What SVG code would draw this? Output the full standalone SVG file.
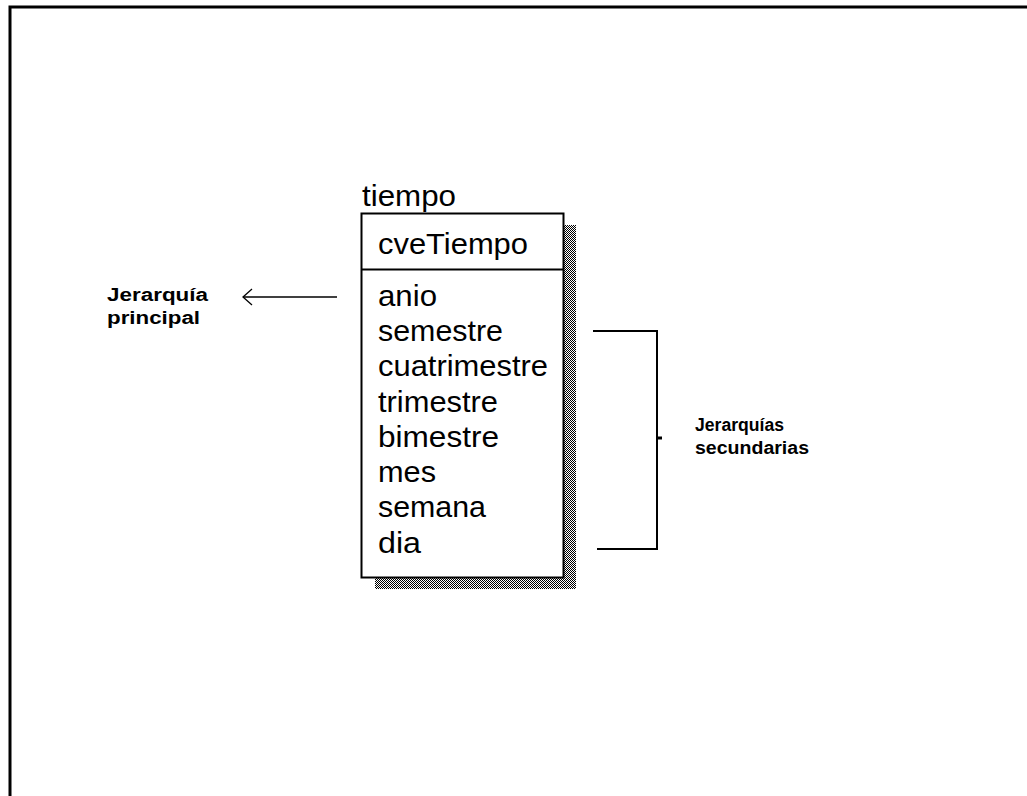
<svg xmlns="http://www.w3.org/2000/svg" width="1027" height="796" viewBox="0 0 1027 796">
<defs>
<pattern id="dots" width="2" height="2" patternUnits="userSpaceOnUse">
<rect width="2" height="2" fill="#fff"/>
<rect width="1" height="1" fill="#000"/>
<rect x="1" y="1" width="1" height="1" fill="#000"/>
</pattern>
<marker id="open" markerWidth="12" markerHeight="18" refX="10" refY="9" orient="auto" markerUnits="userSpaceOnUse">
<path d="M1,1 L10,9 L1,17" fill="none" stroke="#000" stroke-width="1.3"/>
</marker>
</defs>
<style>
.ent{font-family:"Liberation Sans",Arial,sans-serif;font-size:30px;fill:#000}
.lbl{font-family:"Liberation Sans",Arial,sans-serif;font-size:18px;font-weight:bold;fill:#000}
.ln{stroke:#000;stroke-width:2;fill:none}
</style>
<rect x="10" y="7" width="1030" height="800" fill="#fff" stroke="#000" stroke-width="3"/>
<g id="tiempo">
<rect x="375" y="225" width="201" height="364" fill="url(#dots)"/>
<rect x="361.5" y="213.5" width="202" height="364" fill="#fff" stroke="#000" stroke-width="2"/>
<line x1="361" y1="269.5" x2="563" y2="269.5" stroke="#000" stroke-width="2"/>
<text class="ent" x="362" y="206" textLength="94" lengthAdjust="spacingAndGlyphs">tiempo</text>
<text class="ent" x="378" y="254" textLength="150" lengthAdjust="spacingAndGlyphs">cveTiempo</text>
<text class="ent" x="378" y="306" textLength="59" lengthAdjust="spacingAndGlyphs">anio</text>
<text class="ent" x="378" y="341" textLength="125" lengthAdjust="spacingAndGlyphs">semestre</text>
<text class="ent" x="378" y="376" textLength="170" lengthAdjust="spacingAndGlyphs">cuatrimestre</text>
<text class="ent" x="378" y="412" textLength="120" lengthAdjust="spacingAndGlyphs">trimestre</text>
<text class="ent" x="378" y="447" textLength="121" lengthAdjust="spacingAndGlyphs">bimestre</text>
<text class="ent" x="378" y="482" textLength="58" lengthAdjust="spacingAndGlyphs">mes</text>
<text class="ent" x="378" y="517" textLength="108" lengthAdjust="spacingAndGlyphs">semana</text>
<text class="ent" x="378" y="553" textLength="43" lengthAdjust="spacingAndGlyphs">dia</text>
</g>
<g id="principal">
<text class="lbl" x="107" y="301" textLength="101" lengthAdjust="spacingAndGlyphs">Jerarquía</text>
<text class="lbl" x="107" y="324" textLength="93" lengthAdjust="spacingAndGlyphs">principal</text>
</g>
<g id="secundarias">
<text class="lbl" x="695" y="431" textLength="89" lengthAdjust="spacingAndGlyphs">Jerarquías</text>
<text class="lbl" x="695" y="454" textLength="114" lengthAdjust="spacingAndGlyphs">secundarias</text>
</g>
<g id="connectors">
<line x1="337" y1="297" x2="243" y2="297" stroke="#000" stroke-width="1.5" marker-end="url(#open)"/>
<polyline class="ln" points="593,331 657,331 657,549 597,549"/>
<line x1="657" y1="438" x2="662" y2="438" stroke="#000" stroke-width="3"/>
</g>
</svg>
